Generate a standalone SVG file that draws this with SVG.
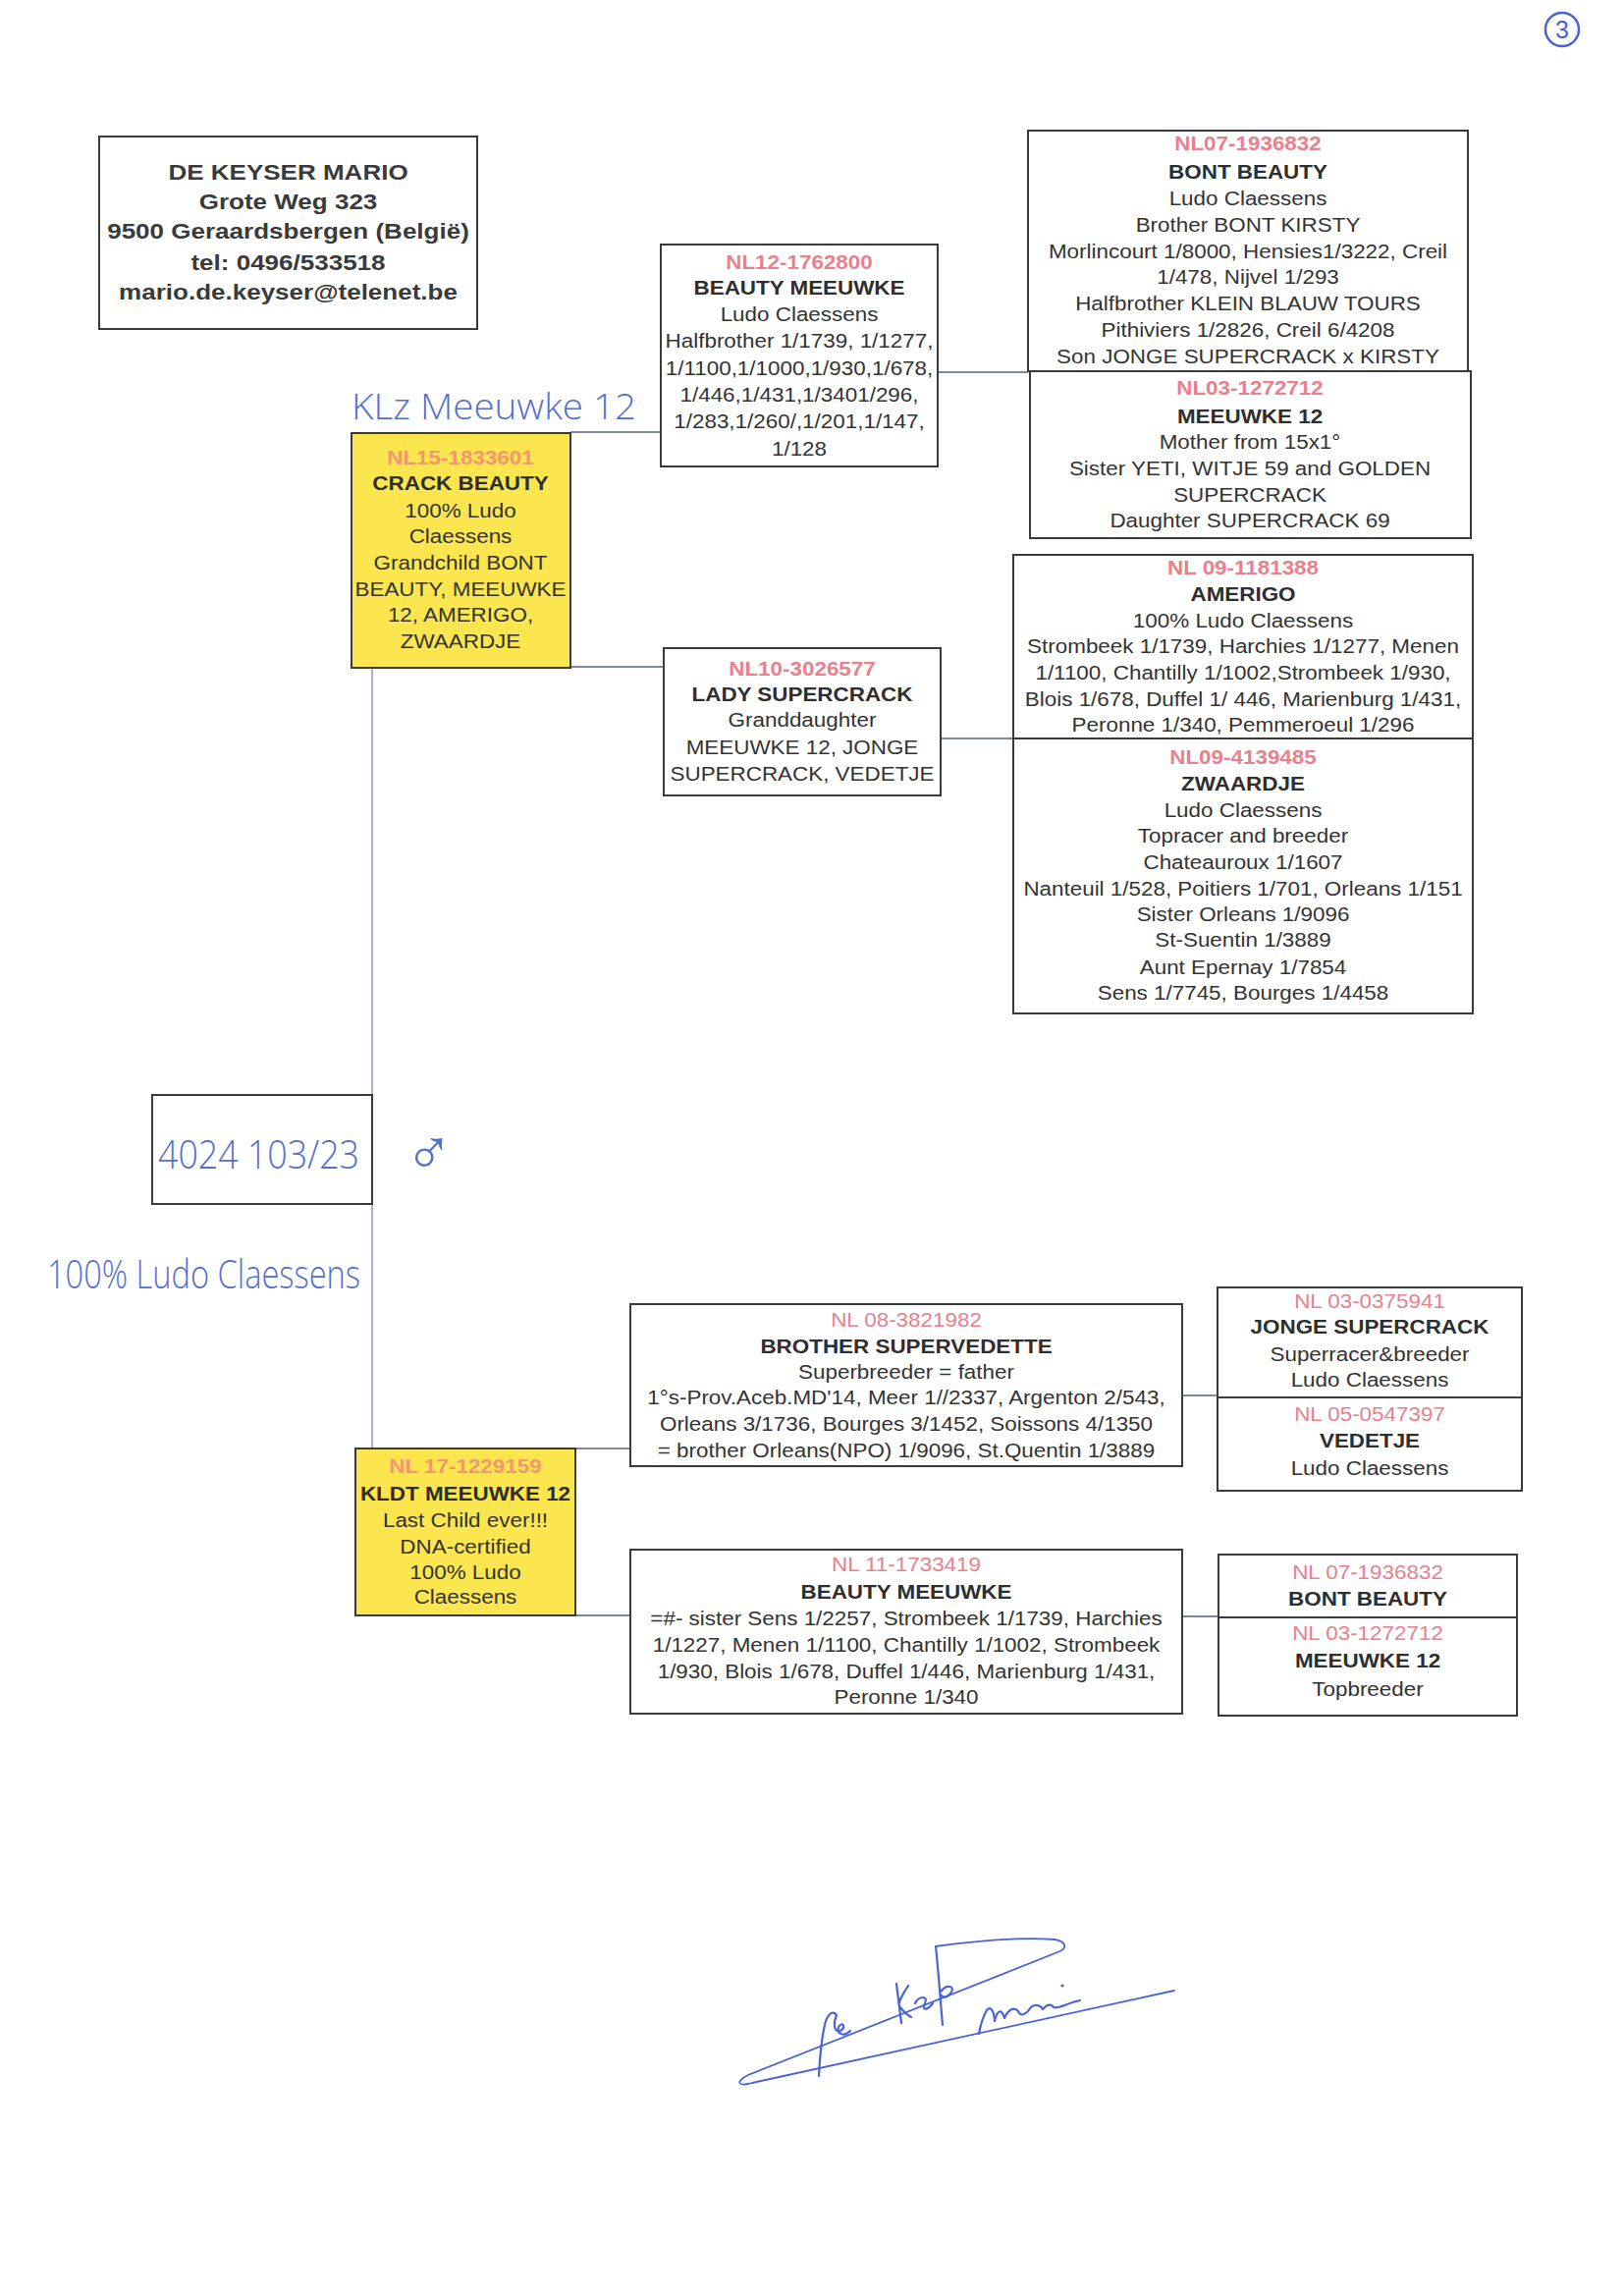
<svg xmlns="http://www.w3.org/2000/svg" width="1654" height="2337" viewBox="0 0 1654 2337">
<style>
  .box{fill:#ffffff;stroke:#3a3a3a;stroke-width:2}
  .yel{fill:#fbe64f;stroke:#3a3a3a;stroke-width:2}
  text{font-family:"Liberation Sans",Arial,sans-serif;font-size:19.5px;text-anchor:middle;fill:#333333}
  .b{font-weight:bold;fill:#2e2e2e}
  .id{font-weight:bold;fill:#e8808d}
  .idr{fill:#e8808d}
  .idy{font-weight:bold;fill:#f2976f}
  .addr{font-weight:bold;font-size:21.5px;fill:#3a3a3a}
  .conn line{stroke:#55607e;stroke-width:1.6}
  .conn .vline{stroke:#8f9fd2;stroke-width:1.6}
  .hand{font-family:"Open Sans","DejaVu Sans",sans-serif;font-weight:300;fill:#5470cc;text-anchor:start}
  .pen{fill:none;stroke:#4b63d6;stroke-width:2.2;stroke-linecap:round;stroke-linejoin:round}
</style>
<rect x="0" y="0" width="1654" height="2337" fill="#ffffff"/>

<g id="page-number">
  <circle cx="1591" cy="30" r="17" fill="none" stroke="#4b63d6" stroke-width="2.5"/>
  <text x="1591" y="39" style="font-size:25px;fill:#4b63d6">3</text>
</g>

<g class="conn" id="connectors">
  <line x1="581" y1="440" x2="673" y2="440"/>
  <line x1="955" y1="379" x2="1047" y2="379"/>
  <line x1="581" y1="679" x2="676" y2="679"/>
  <line x1="958" y1="752" x2="1032" y2="752"/>
  <line class="vline" x1="379" y1="680" x2="379" y2="1475"/>
  <line x1="586" y1="1475" x2="642" y2="1475"/>
  <line x1="586" y1="1645" x2="642" y2="1645"/>
  <line x1="1204" y1="1421" x2="1240" y2="1421"/>
  <line x1="1204" y1="1646" x2="1241" y2="1646"/>
</g>

<g id="owner">
  <rect class="box" x="101" y="139" width="385" height="196"/>
  <g transform="matrix(1.21 0 0 1 293.5 0)">
    <text class="addr" x="0" y="183">DE KEYSER MARIO</text>
    <text class="addr" x="0" y="213">Grote Weg 323</text>
    <text class="addr" x="0" y="243">9500 Geraardsbergen (België)</text>
    <text class="addr" x="0" y="275">tel: 0496/533518</text>
    <text class="addr" x="0" y="305">mario.de.keyser@telenet.be</text>
  </g>
</g>

<g id="bont-beauty-top">
  <rect class="box" x="1047" y="133" width="448" height="245"/>
  <g transform="matrix(1.15 0 0 1 1271 0)">
    <text class="id" x="0" y="153">NL07-1936832</text>
    <text class="b" x="0" y="182">BONT BEAUTY</text>
    <text x="0" y="209">Ludo Claessens</text>
    <text x="0" y="236">Brother BONT KIRSTY</text>
    <text x="0" y="263">Morlincourt 1/8000, Hensies1/3222, Creil</text>
    <text x="0" y="289">1/478, Nijvel 1/293</text>
    <text x="0" y="316">Halfbrother KLEIN BLAUW TOURS</text>
    <text x="0" y="343">Pithiviers 1/2826, Creil 6/4208</text>
    <text x="0" y="370">Son JONGE SUPERCRACK x KIRSTY</text>
  </g>
</g>

<g id="meeuwke-12-top">
  <rect class="box" x="1049" y="378" width="449" height="170"/>
  <g transform="matrix(1.15 0 0 1 1273 0)">
    <text class="id" x="0" y="402">NL03-1272712</text>
    <text class="b" x="0" y="431">MEEUWKE 12</text>
    <text x="0" y="457">Mother from 15x1°</text>
    <text x="0" y="484">Sister YETI, WITJE 59 and GOLDEN</text>
    <text x="0" y="511">SUPERCRACK</text>
    <text x="0" y="537">Daughter SUPERCRACK 69</text>
  </g>
</g>

<g id="beauty-meeuwke-top">
  <rect class="box" x="673" y="249" width="282" height="226"/>
  <g transform="matrix(1.15 0 0 1 814 0)">
    <text class="id" x="0" y="274">NL12-1762800</text>
    <text class="b" x="0" y="300">BEAUTY MEEUWKE</text>
    <text x="0" y="327">Ludo Claessens</text>
    <text x="0" y="354">Halfbrother 1/1739, 1/1277,</text>
    <text x="0" y="382">1/1100,1/1000,1/930,1/678,</text>
    <text x="0" y="409">1/446,1/431,1/3401/296,</text>
    <text x="0" y="436">1/283,1/260/,1/201,1/147,</text>
    <text x="0" y="464">1/128</text>
  </g>
</g>

<g id="crack-beauty">
  <rect class="yel" x="358" y="441" width="223" height="239"/>
  <g transform="matrix(1.15 0 0 1 469 0)">
    <text class="idy" x="0" y="473">NL15-1833601</text>
    <text class="b" x="0" y="499">CRACK BEAUTY</text>
    <text x="0" y="527">100% Ludo</text>
    <text x="0" y="553">Claessens</text>
    <text x="0" y="580">Grandchild BONT</text>
    <text x="0" y="607">BEAUTY, MEEUWKE</text>
    <text x="0" y="633">12, AMERIGO,</text>
    <text x="0" y="660">ZWAARDJE</text>
  </g>
</g>

<g id="lady-supercrack">
  <rect class="box" x="676" y="660" width="282" height="150"/>
  <g transform="matrix(1.15 0 0 1 817 0)">
    <text class="id" x="0" y="688">NL10-3026577</text>
    <text class="b" x="0" y="714">LADY SUPERCRACK</text>
    <text x="0" y="740">Granddaughter</text>
    <text x="0" y="768">MEEUWKE 12, JONGE</text>
    <text x="0" y="795">SUPERCRACK, VEDETJE</text>
  </g>
</g>

<g id="amerigo">
  <rect class="box" x="1032" y="565" width="468" height="187"/>
  <g transform="matrix(1.15 0 0 1 1266 0)">
    <text class="id" x="0" y="585">NL 09-1181388</text>
    <text class="b" x="0" y="612">AMERIGO</text>
    <text x="0" y="639">100% Ludo Claessens</text>
    <text x="0" y="665">Strombeek 1/1739, Harchies 1/1277, Menen</text>
    <text x="0" y="692">1/1100, Chantilly 1/1002,Strombeek 1/930,</text>
    <text x="0" y="719">Blois 1/678, Duffel 1/ 446, Marienburg 1/431,</text>
    <text x="0" y="745">Peronne 1/340, Pemmeroeul 1/296</text>
  </g>
</g>

<g id="zwaardje">
  <rect class="box" x="1032" y="752" width="468" height="280"/>
  <g transform="matrix(1.15 0 0 1 1266 0)">
    <text class="id" x="0" y="778">NL09-4139485</text>
    <text class="b" x="0" y="805">ZWAARDJE</text>
    <text x="0" y="832">Ludo Claessens</text>
    <text x="0" y="858">Topracer and breeder</text>
    <text x="0" y="885">Chateauroux 1/1607</text>
    <text x="0" y="912">Nanteuil 1/528, Poitiers 1/701, Orleans 1/151</text>
    <text x="0" y="938">Sister Orleans 1/9096</text>
    <text x="0" y="964">St-Suentin 1/3889</text>
    <text x="0" y="992">Aunt Epernay 1/7854</text>
    <text x="0" y="1018">Sens 1/7745, Bourges 1/4458</text>
  </g>
</g>

<g id="ring-number">
  <rect x="155" y="1115" width="224" height="111" fill="none" stroke="#3a3a3a" stroke-width="2"/>
  <text class="hand" x="161" y="1190" style="font-size:40px" textLength="205" lengthAdjust="spacingAndGlyphs">4024 103/23</text>
</g>

<g id="handwritten-notes">
  <text class="hand" x="358" y="427" style="font-size:36px" textLength="290" lengthAdjust="spacingAndGlyphs">KLz Meeuwke 12</text>
  <text class="hand" x="412" y="1196" style="font-size:66px;font-family:'DejaVu Sans',sans-serif">♂</text>
  <text class="hand" x="48" y="1312" style="font-size:40px" textLength="319" lengthAdjust="spacingAndGlyphs">100% Ludo Claessens</text>
</g>

<g id="kldt-meeuwke-12">
  <rect class="yel" x="362" y="1475" width="224" height="170"/>
  <g transform="matrix(1.15 0 0 1 474 0)">
    <text class="idy" x="0" y="1500">NL 17-1229159</text>
    <text class="b" x="0" y="1528">KLDT MEEUWKE 12</text>
    <text x="0" y="1555">Last Child ever!!!</text>
    <text x="0" y="1582">DNA-certified</text>
    <text x="0" y="1608">100% Ludo</text>
    <text x="0" y="1633">Claessens</text>
  </g>
</g>

<g id="brother-supervedette">
  <rect class="box" x="642" y="1328" width="562" height="165"/>
  <g transform="matrix(1.15 0 0 1 923 0)">
    <text class="idr" x="0" y="1351">NL 08-3821982</text>
    <text class="b" x="0" y="1378">BROTHER SUPERVEDETTE</text>
    <text x="0" y="1404">Superbreeder = father</text>
    <text x="0" y="1430">1°s-Prov.Aceb.MD'14, Meer 1//2337, Argenton 2/543,</text>
    <text x="0" y="1457">Orleans 3/1736, Bourges 3/1452, Soissons 4/1350</text>
    <text x="0" y="1484">= brother Orleans(NPO) 1/9096, St.Quentin 1/3889</text>
  </g>
</g>

<g id="jonge-supercrack">
  <rect class="box" x="1240" y="1311" width="310" height="112"/>
  <g transform="matrix(1.15 0 0 1 1395 0)">
    <text class="idr" x="0" y="1332">NL 03-0375941</text>
    <text class="b" x="0" y="1358">JONGE SUPERCRACK</text>
    <text x="0" y="1386">Superracer&amp;breeder</text>
    <text x="0" y="1412">Ludo Claessens</text>
  </g>
</g>

<g id="vedetje">
  <rect class="box" x="1240" y="1423" width="310" height="95"/>
  <g transform="matrix(1.15 0 0 1 1395 0)">
    <text class="idr" x="0" y="1447">NL 05-0547397</text>
    <text class="b" x="0" y="1474">VEDETJE</text>
    <text x="0" y="1502">Ludo Claessens</text>
  </g>
</g>

<g id="beauty-meeuwke-bottom">
  <rect class="box" x="642" y="1578" width="562" height="167"/>
  <g transform="matrix(1.15 0 0 1 923 0)">
    <text class="idr" x="0" y="1600">NL 11-1733419</text>
    <text class="b" x="0" y="1628">BEAUTY MEEUWKE</text>
    <text x="0" y="1655">=#- sister Sens 1/2257, Strombeek 1/1739, Harchies</text>
    <text x="0" y="1682">1/1227, Menen 1/1100, Chantilly 1/1002, Strombeek</text>
    <text x="0" y="1709">1/930, Blois 1/678, Duffel 1/446, Marienburg 1/431,</text>
    <text x="0" y="1735">Peronne 1/340</text>
  </g>
</g>

<g id="bont-beauty-bottom">
  <rect class="box" x="1241" y="1583" width="304" height="64"/>
  <g transform="matrix(1.15 0 0 1 1393 0)">
    <text class="idr" x="0" y="1608">NL 07-1936832</text>
    <text class="b" x="0" y="1635">BONT BEAUTY</text>
  </g>
</g>

<g id="meeuwke-12-bottom">
  <rect class="box" x="1241" y="1647" width="304" height="100"/>
  <g transform="matrix(1.15 0 0 1 1393 0)">
    <text class="idr" x="0" y="1670">NL 03-1272712</text>
    <text class="b" x="0" y="1698">MEEUWKE 12</text>
    <text x="0" y="1727">Topbreeder</text>
  </g>
</g>

<g id="signature">
  <path class="pen" d="M953 1982 C990 1977 1040 1972 1074 1975 C1086 1977 1088 1984 1077 1988 L762 2113 C748 2120 752 2125 766 2121 L1196 2027" style="stroke-width:1.8"/>
  <path class="pen" d="M834 2114 C835 2095 837 2075 840 2062 C842 2052 848 2046 852 2052 C848 2062 850 2070 856 2068 C862 2064 858 2058 854 2064 C852 2072 860 2074 866 2068"/>
  <path class="pen" d="M913 2020 L918 2060 M925 2022 C918 2033 914 2040 916 2043 C920 2048 924 2052 928 2054"/>
  <path class="pen" d="M932 2040 C936 2032 946 2032 942 2040 C938 2047 944 2048 950 2040"/>
  <path class="pen" d="M953 1982 C956 2010 958 2040 960 2062 M958 2028 C964 2020 974 2022 968 2030 C964 2035 960 2034 959 2032"/>
  <path class="pen" d="M997 2071 C999 2060 1002 2052 1005 2047 C1008 2043 1012 2045 1013 2058 C1015 2048 1020 2044 1023 2055 C1027 2046 1033 2043 1037 2048 C1040 2055 1046 2050 1050 2044 C1054 2040 1060 2042 1062 2046 C1066 2041 1071 2040 1073 2044 C1078 2046 1086 2040 1100 2037"/>
  <circle cx="1082" cy="2022" r="1.6" fill="#4b63d6"/>
</g>
</svg>
